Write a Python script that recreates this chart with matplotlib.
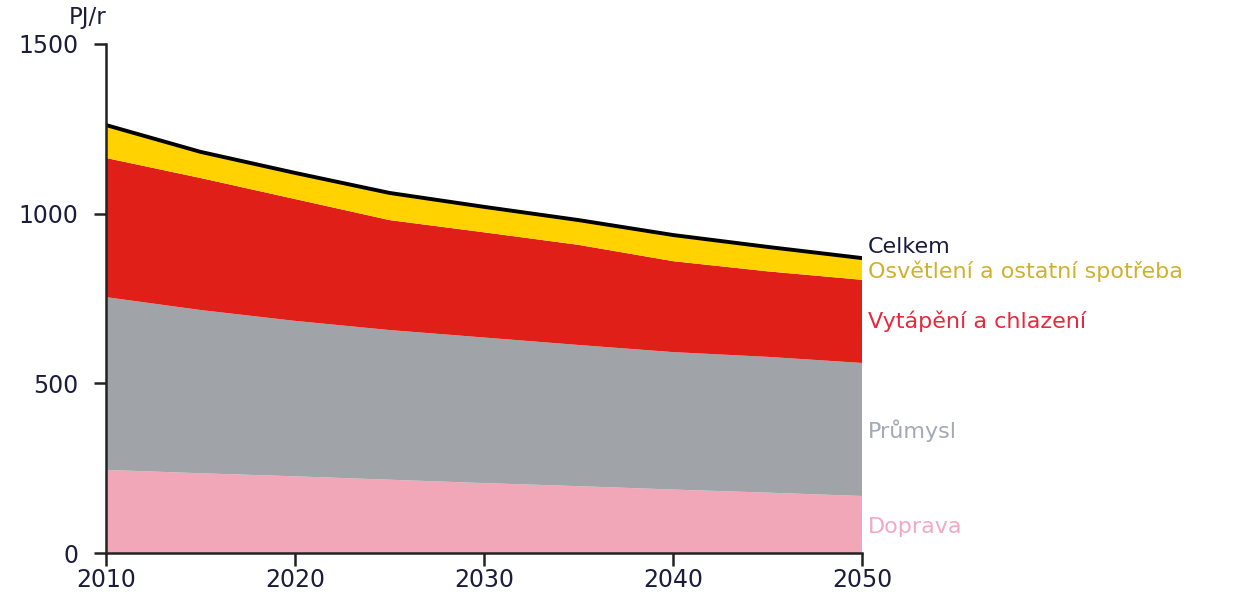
import numpy as np
import matplotlib.pyplot as plt

#%% Data (PJ/r)
years = [2010, 2015, 2020, 2025, 2030, 2035, 2040, 2045, 2050]
doprava = [245, 235, 226, 216, 206, 197, 187, 178, 168]
prumysl = [509, 481, 458, 441, 429, 416, 405, 400, 392]
vytapeni = [410, 389, 359, 324, 310, 295, 268, 252, 245]
osvetleni = [97, 77, 77, 80, 75, 73, 77, 72, 64]

labels = ['Doprava', 'Průmysl', 'Vytápění a chlazení', 'Osvětlení a ostatní spotřeba']
colors = ['#f2a7b9', '#a0a4a8', '#e01f19', '#ffd200']
label_colors = ['#f4a9c2', '#a3a9b6', '#e8283c', '#d2b02c']

total = np.sum([doprava, prumysl, vytapeni, osvetleni], axis=0)

#%% Plot
plt.rcParams['font.family'] = ['DejaVu Sans']
fig = plt.figure(figsize=(12.58, 5.94), dpi=100)
ax = fig.add_axes([0.0843, 0.069, 0.6010, 0.857])

ax.stackplot(years, doprava, prumysl, vytapeni, osvetleni, colors=colors, linewidth=0)
ax.plot(years, total, color='black', lw=2.8, solid_joinstyle='round')

ax.set_xlim(2010, 2050)
ax.set_ylim(0, 1500)
ax.set_xticks([2010, 2020, 2030, 2040, 2050])
ax.set_yticks([0, 500, 1000, 1500])
for s in ['top', 'right']:
    ax.spines[s].set_visible(False)
for s in ['left', 'bottom']:
    ax.spines[s].set_linewidth(1.8)
    ax.spines[s].set_color('#222222')
ax.tick_params(axis='both', length=9, width=1.8, color='#222222',
               labelsize=17, labelcolor='#1c1c3c')
ax.tick_params(axis='y', pad=11)
ax.tick_params(axis='x', pad=2)

ax.text(0.0, 1.03, 'PJ/r', transform=ax.transAxes, fontsize=16.5,
        color='#1c1c3c', ha='right', va='bottom')

# series labels at the right end
tx = 2050.3
kw = dict(fontsize=16, va='baseline', clip_on=False)
ax.text(tx, 885, 'Celkem', color='#1a1a40', **kw)
ax.text(tx, 809, labels[3], color=label_colors[3], **kw)
ax.text(tx, 663, labels[2], color=label_colors[2], **kw)
ax.text(tx, 339, labels[1], color=label_colors[1], **kw)
ax.text(tx, 59, labels[0], color=label_colors[0], **kw)

fig.savefig('out.png', dpi=100)
